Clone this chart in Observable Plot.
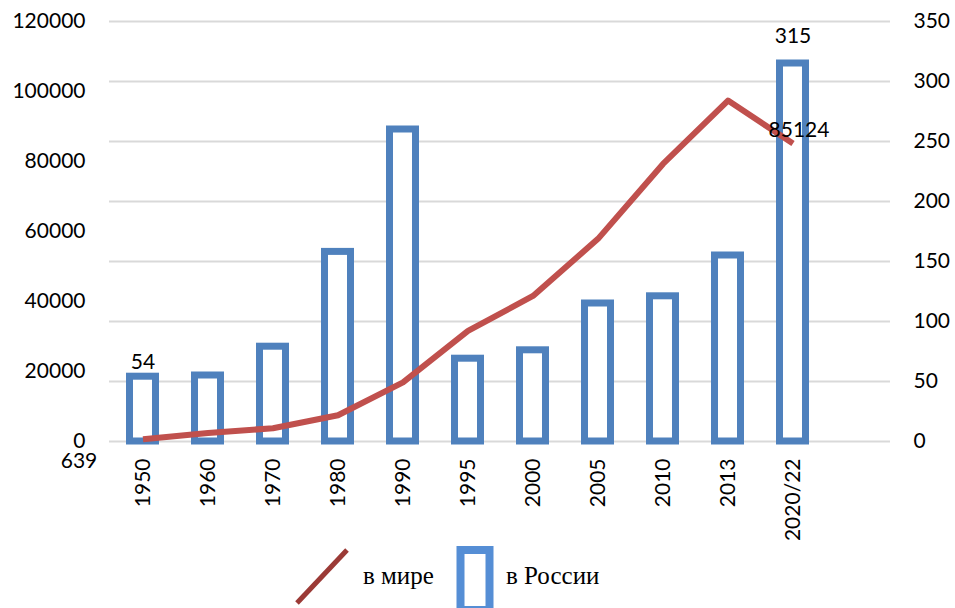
<!DOCTYPE html>
<html>
<head>
<meta charset="utf-8">
<script src="https://cdn.jsdelivr.net/npm/d3@7"></script>
<script src="https://cdn.jsdelivr.net/npm/@observablehq/plot@0.6"></script>
<style>
  body { margin: 0; background: #fff; }
  #wrap { position: relative; width: 955px; height: 608px; }
  #legend { position: absolute; left: 0; top: 540px; width: 955px; height: 68px; }
</style>
</head>
<body>
<div id="wrap"><div id="chart"></div><div id="legend"></div></div>
<script>
// Categories (years)
const years = ["1950", "1960", "1970", "1980", "1990", "1995", "2000", "2005", "2010", "2013", "2020/22"];
// World values (left axis)
const world = [639, 2400, 3800, 7500, 16900, 31600, 41600, 57900, 79300, 97400, 85124];
// Russia values (right axis)
const russia = [54, 55, 79, 158, 260, 69, 76, 115, 121, 155, 315];
// Axis ticks
const leftTicks = [0, 20000, 40000, 60000, 80000, 100000, 120000];
const rightTicks = [0, 50, 100, 150, 200, 250, 300, 350];
const leftMax = 120000, rightMax = 350;
const k = rightMax / leftMax;

const data = years.map((y, i) => ({year: y, world: world[i], russia: russia[i], worldScaled: world[i] * k}));
const domainX = [...years, "_"]; // empty trailing slot as in original

const font = "Lato, 'Open Sans', sans-serif";

const chart = Plot.plot({
  width: 955,
  height: 540,
  marginTop: 21,
  marginBottom: 99,
  marginLeft: 109,
  marginRight: 65,
  style: {fontFamily: font, fontSize: "21px", color: "#000", background: "#fff"},
  x: {type: "band", domain: domainX, padding: 0, label: null},
  y: {domain: [0, rightMax], label: null},
  marks: [
    Plot.gridY(rightTicks, {stroke: "#d9d9d9", strokeOpacity: 1, strokeWidth: 2}),
    Plot.barY(data, {x: "year", y: "russia", fill: "#fff", stroke: "#4F81BD", strokeWidth: 7, insetLeft: 19.5, insetRight: 19.5}),
    Plot.lineY(data, {x: "year", y: "worldScaled", stroke: "#C0504D", strokeWidth: 6, strokeLinejoin: "round", strokeLinecap: "butt"}),
    Plot.axisY(leftTicks.map(v => v * k), {anchor: "left", tickSize: 0, tickPadding: 24, tickFormat: d => String(Math.round(d / k)), fontSize: 21, label: null}),
    Plot.axisY(rightTicks, {anchor: "right", tickSize: 0, tickPadding: 23, fontSize: 21, label: null}),
    Plot.axisX(years, {tickSize: 0, tickPadding: 17, tickRotate: -90, fontSize: 21, label: null}),
    // data labels
    Plot.text([data[0]], {x: "year", y: "russia", text: d => String(d.russia), dy: -14, fontSize: 21, fill: "#000"}),
    Plot.text([data[10]], {x: "year", y: "russia", text: d => String(d.russia), dy: -27, fontSize: 21, fill: "#000"}),
    Plot.text([data[0]], {x: "year", y: "worldScaled", text: d => String(d.world), dx: -64, dy: 22, fontSize: 21, fill: "#000"}),
    Plot.text([data[10]], {x: "year", y: "worldScaled", text: d => String(d.world), dx: 6, dy: -13, fontSize: 21, fill: "#000"})
  ]
});
document.getElementById("chart").appendChild(chart);

// Legend
const legendItems = ["в мире", "в России"];
const lg = d3.select("#legend").append("svg").attr("width", 955).attr("height", 68);
lg.append("line").attr("x1", 297).attr("y1", 63).attr("x2", 347).attr("y2", 10)
  .attr("stroke", "#9B3A36").attr("stroke-width", 5);
lg.append("text").attr("x", 363).attr("y", 44).text(legendItems[0])
  .attr("font-family", "'Liberation Serif', 'Times New Roman', serif").attr("font-size", 25).attr("fill", "#000");
lg.append("rect").attr("x", 460.5).attr("y", 10).attr("width", 29).attr("height", 60)
  .attr("fill", "#fff").attr("stroke", "#558ED5").attr("stroke-width", 8);
lg.append("text").attr("x", 506).attr("y", 44).text(legendItems[1])
  .attr("font-family", "'Liberation Serif', 'Times New Roman', serif").attr("font-size", 25).attr("fill", "#000");
</script>
</body>
</html>
